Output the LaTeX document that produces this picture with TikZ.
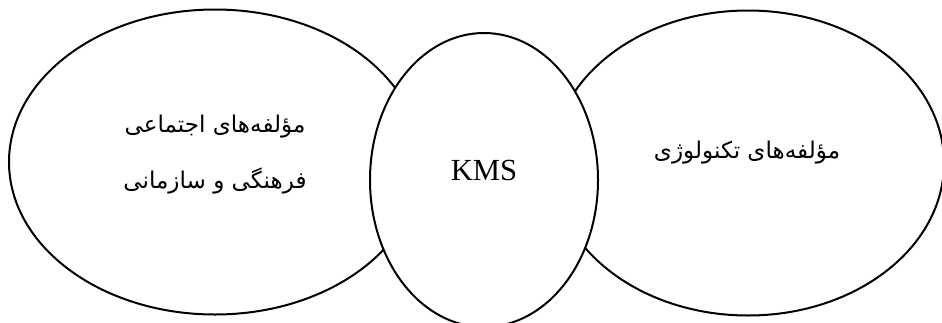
\documentclass[tikz,border=0pt]{standalone}
\usepackage{fontspec}
\setmainfont{Liberation Serif}
\newfontfamily\arabicfont[Script=Arabic]{DejaVu Sans}
\TeXXeTstate=1
\usetikzlibrary{shapes.geometric}
\tikzset{
  blob/.style={ellipse, draw=black, line width=1.5pt, fill=white, inner sep=0pt},
  fatext/.style={font=\arabicfont\fontsize{17.3}{42}\selectfont, align=center, inner sep=0pt},
  entext/.style={font=\fontsize{23}{27}\selectfont, inner sep=0pt}
}
\begin{document}
\begin{tikzpicture}[x=0.75pt,y=-0.75pt]
\useasboundingbox (0,0) rectangle (942,322);
\clip (0,0) rectangle (942,322);
\node[blob, minimum width=412*0.75pt, minimum height=305*0.75pt] (left) at (215,162) {};
\node[blob, minimum width=392*0.75pt, minimum height=305*0.75pt] (right) at (748,163) {};
\node[blob, minimum width=228*0.75pt, minimum height=294*0.75pt] (kms) at (484,180) {};
\node[fatext] (lt) at (215,155) {\beginR مؤلفه‌های اجتماعی\endR\\ \beginR فرهنگی و سازمانی\endR};
\node[fatext] (rt) at (747,153) {\beginR مؤلفه‌های تکنولوژی\endR};
\node[entext] (kt) at (484,170) {KMS};
\end{tikzpicture}
\end{document}
